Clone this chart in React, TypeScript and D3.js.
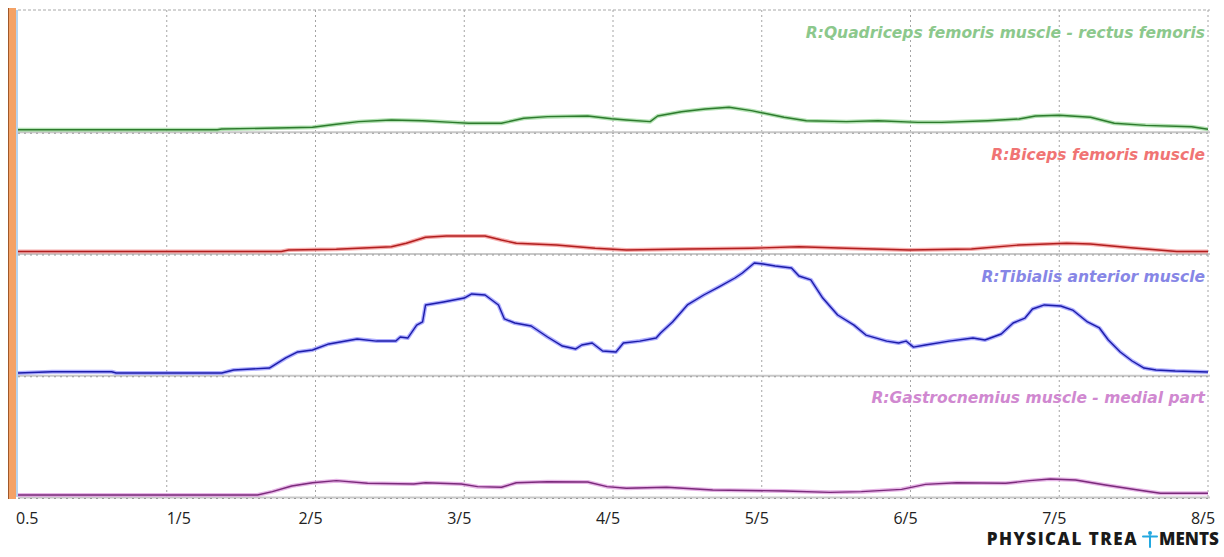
import React from "react";
import * as d3 from "d3";

// time axis (ticks at whole units, labelled like the recorder does)
const tickValues = [0, 1, 2, 3, 4, 5, 6, 7, 8];
const tickLabels = ["0.5", "1/5", "2/5", "3/5", "4/5", "5/5", "6/5", "7/5", "8/5"];

const muscleNames = [
  "R:Quadriceps femoris muscle - rectus femoris",
  "R:Biceps femoris muscle",
  "R:Tibialis anterior muscle",
  "R:Gastrocnemius muscle - medial part",
];

// [time, amplitude %]
const quadriceps = [
  [0, 0], [1.34, 0], [1.37, 0.6], [1.98, 2.1], [2.14, 4.7], [2.29, 7], [2.51, 8.4],
  [2.72, 7.8], [2.92, 6.4], [3.03, 5.6], [3.25, 5.6], [3.4, 9.9], [3.56, 11.3],
  [3.83, 11.9], [3.99, 9.5], [4.09, 8.4], [4.25, 7], [4.3, 11.9], [4.46, 15.6],
  [4.62, 17.9], [4.78, 19.4], [4.93, 16.5], [5.15, 10.8], [5.3, 7.8], [5.57, 7],
  [5.78, 7.8], [6.05, 6.4], [6.21, 6.4], [6.52, 7.8], [6.73, 9.3], [6.84, 11.9],
  [7.0, 12.5], [7.21, 10.8], [7.37, 5.6], [7.58, 3.8], [7.89, 2.6], [8, 0.4],
];
const biceps = [
  [0, 0], [1.77, 0], [1.82, 1.3], [2.14, 1.9], [2.51, 4.1], [2.61, 7.1], [2.74, 12.3],
  [2.88, 13.4], [3.14, 13.4], [3.25, 9.9], [3.35, 7.1], [3.62, 5.6], [3.88, 2.8],
  [4.09, 1.3], [4.51, 2.2], [4.93, 2.8], [5.25, 4.1], [5.57, 2.8], [5.99, 1.3],
  [6.41, 2.2], [6.73, 5.6], [7.05, 7.1], [7.21, 6.5], [7.48, 3.3], [7.79, 0], [8, 0],
];
const tibialis = [
  [0, 0.2], [0.23, 1.3], [0.63, 1.3], [0.66, 0.2], [1.37, 0.2], [1.45, 2.8], [1.69, 4.5],
  [1.8, 13.2], [1.88, 18.4], [1.98, 20.1], [2.09, 25.3], [2.28, 29.6], [2.41, 27.8],
  [2.54, 27.8], [2.57, 31.3], [2.62, 30.4], [2.68, 41.6], [2.72, 44.3], [2.74, 59],
  [2.86, 61.6], [3.0, 65], [3.05, 68.5], [3.14, 67.6], [3.23, 59], [3.27, 46.9],
  [3.34, 43.4], [3.45, 40.8], [3.56, 31.3], [3.66, 23.5], [3.75, 21], [3.79, 24.4],
  [3.86, 26.1], [3.93, 19.2], [4.02, 18.4], [4.07, 26.1], [4.18, 27.8], [4.29, 30.4],
  [4.32, 34.8], [4.4, 44.3], [4.5, 59], [4.61, 67.6], [4.71, 74.5], [4.82, 82.3],
  [4.87, 86.6], [4.95, 95.3], [5.01, 94.4], [5.09, 92.7], [5.2, 90.9], [5.25, 84],
  [5.33, 80.6], [5.41, 65], [5.51, 50.3], [5.62, 41.6], [5.7, 33], [5.84, 27.8],
  [5.92, 26.1], [5.97, 27.8], [6.02, 22.6], [6.1, 24.4], [6.26, 27.8], [6.42, 30.4],
  [6.5, 28.7], [6.61, 33.9], [6.69, 43.4], [6.77, 47.7], [6.82, 55.5], [6.9, 59],
  [7.01, 58.1], [7.09, 54.6], [7.19, 44.3], [7.27, 39.1], [7.33, 28.7], [7.41, 18.4],
  [7.49, 10.6], [7.57, 4.5], [7.65, 2.8], [7.78, 1.9], [8, 1.1],
];
const gastrocnemius = [
  [0, 0], [1.61, 0], [1.71, 2.9], [1.84, 7.8], [1.98, 10.6], [2.14, 12.4], [2.35, 10.1],
  [2.66, 9.5], [2.74, 10.6], [2.98, 9.5], [3.09, 7.2], [3.25, 6.7], [3.35, 10.6],
  [3.56, 11.5], [3.83, 11.2], [3.96, 7.2], [4.09, 5.8], [4.36, 6.7], [4.67, 4.3],
  [5.15, 3.5], [5.46, 2.3], [5.67, 2.9], [5.94, 4.9], [6.1, 9.2], [6.31, 10.6],
  [6.64, 10.1], [6.8, 12.4], [6.94, 13.8], [7.11, 13], [7.31, 8.6], [7.53, 4.3],
  [7.68, 1.5], [8, 1.5],
];

const series = [quadriceps, biceps, tibialis, gastrocnemius];
const lineColors = ["#2d7a2d", "#b01e1e", "#1c1ca8", "#7a2a7a"];
const haloColors = ["#92d492", "#f28a8a", "#8c8cff", "#dc96dc"];
const labelColors = ["#8cc88c", "#f07474", "#8686e6", "#d088d0"];

const W = 1224;
const H = 557;
const plotLeft = 18;
const plotRight = 1208;
const plotTop = 10;
const plotBottom = 497;

export default function App() {
  const x = d3.scaleLinear().domain([0, 8]).range([plotLeft, plotRight]);
  const panelH = (plotBottom - plotTop) / series.length;
  const band = d3.scaleBand<number>().domain(d3.range(series.length)).range([plotTop, plotBottom]);

  return (
    <svg width={W} height={H} style={{ position: "absolute", left: 0, top: 0, background: "#fff" }}>
      {/* orange side strip */}
      <rect x={8} y={8} width={8} height={plotBottom - 6} fill="#f4a266" />
      <line x1={8.5} x2={8.5} y1={8} y2={plotBottom + 2} stroke="#a0582a" strokeWidth={1} />
      <line x1={17} x2={17} y1={plotTop} y2={plotBottom} stroke="#9ec4e8" strokeWidth={1.5} />

      {/* vertical grid */}
      {tickValues.slice(1).map((t) => (
        <line key={t} x1={x(t)} x2={x(t)} y1={plotTop} y2={plotBottom}
          stroke="#a4a4a4" strokeWidth={1} strokeDasharray="2,3" />
      ))}
      <line x1={plotLeft} x2={plotRight + 2} y1={plotTop} y2={plotTop} stroke="#a8a8a8" strokeDasharray="3,2" />

      {series.map((data, i) => {
        const top = band(i)!;
        const bottom = top + panelH;
        const y = d3.scaleLinear().domain([0, 100]).range([bottom - 2, bottom - 2 - 115.75]);
        const line = d3.line<number[]>().x((d) => x(d[0])).y((d) => y(d[1])).curve(d3.curveLinear);
        const path = line(data) || "";
        return (
          <g key={i}>
            <line x1={plotLeft} x2={plotRight + 2} y1={bottom + 0.5} y2={bottom + 0.5} stroke="#c8c8c8" strokeWidth={2} />
            <line x1={plotLeft} x2={plotRight + 2} y1={bottom + 1.5} y2={bottom + 1.5} stroke="#999" strokeDasharray="2,4" />
            <path d={path} fill="none" stroke={haloColors[i]} strokeWidth={4} strokeOpacity={0.7} strokeLinejoin="round" />
            <path d={path} fill="none" stroke={lineColors[i]} strokeWidth={1.4} strokeLinejoin="round" />
            <text x={plotRight - 3} y={top + 28} textAnchor="end" fill={labelColors[i]}
              style={{ font: "italic bold 15.5px 'DejaVu Sans', sans-serif" }}>
              {muscleNames[i]}
            </text>
          </g>
        );
      })}

      {/* time labels */}
      {tickValues.map((t, i) => (
        <text key={t} x={i === 0 ? x(t) - 2 : x(t) + (i === 1 ? 12 : -5)} y={524}
          textAnchor={i === 0 ? "start" : "middle"} fill="#222"
          style={{ font: "16px 'Open Sans', sans-serif" }}>
          {tickLabels[i]}
        </text>
      ))}

      {/* logo */}
      <g style={{ font: "800 17px 'Open Sans', sans-serif" }} fill="#1a1a1a">
        <text x={1138} y={545} textAnchor="end" style={{ letterSpacing: "1.5px" }}>PHYSICAL TREA</text>
        <text x={1159} y={545}>MENTS</text>
      </g>
      <g stroke="#22a8e0" strokeWidth={2} fill="#22a8e0" strokeLinecap="round">
        <circle cx={1150} cy={533} r={2} stroke="none" />
        <line x1={1143} x2={1157} y1={536.5} y2={536.5} />
        <line x1={1150} x2={1150} y1={536} y2={547} />
      </g>
    </svg>
  );
}
